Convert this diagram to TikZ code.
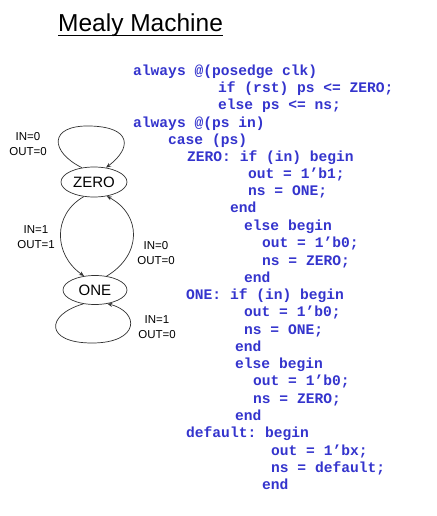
\documentclass[tikz,border=0pt]{standalone}
\usepackage{fontspec}
\setmainfont{Liberation Sans}
\newfontfamily\codefont{Liberation Mono}
\usetikzlibrary{arrows.meta,shapes.geometric}
\definecolor{codeblue}{RGB}{52,52,205}
\definecolor{edgegray}{RGB}{50,50,50}
\frenchspacing
\tikzset{
  codeline/.style={anchor=base west,inner sep=0pt,text=codeblue,font=\codefont\bfseries\fontsize{14.6}{17}\selectfont},
  state/.style={ellipse,draw=edgegray,line width=0.7pt,inner sep=0pt,font=\fontsize{15}{18}\selectfont},
  lbl/.style={align=center,inner sep=0pt,font=\fontsize{11.5}{15}\selectfont},
  trans/.style={draw=edgegray,line width=0.7pt,-{Stealth[length=5pt,width=4pt]}}
}
\begin{document}
\begin{tikzpicture}[x=1pt,y=-1pt]
\useasboundingbox[fill=white] (0,0) rectangle (436,516);
% title
\node[anchor=base west,inner sep=0pt,font=\fontsize{24.5}{28}\selectfont] (title) at (58,32) {Mealy Machine};
\draw[line width=1.3pt] ([yshift=-3.2pt]title.base west) -- ([yshift=-3.2pt]title.base east);
% states
\node[state,minimum width=66pt,minimum height=30pt] (zero) at (94,182) {ZERO};
\node[state,minimum width=64pt,minimum height=29pt] (one) at (95,290) {ONE};
% transitions
\draw[trans] (zero.130) .. controls (50,152) and (48,125) .. (90,126) .. controls (132,127) and (132,148) .. (zero.50);
\draw[trans] (zero.235) .. controls (52,215) and (54,255) .. (one.128);
\draw[trans] (one.50) .. controls (142,255) and (142,215) .. (zero.-48);
\draw[trans] (one.-130) .. controls (45,315) and (45,343) .. (92,343) .. controls (140,343) and (140,312) .. (one.-48);
% labels
\node[lbl] (l1) at (28,144.5) {IN=0\\OUT=0};
\node[lbl] (l2) at (36,237) {IN=1\\OUT=1};
\node[lbl] (l3) at (156,253.5) {IN=0\\OUT=0};
\node[lbl] (l4) at (157,327) {IN=1\\OUT=0};
% code
\node[codeline] (c1) at (133,75.5) {always @(posedge clk)};
\node[codeline] (c2) at (218,92.5) {if (rst) ps <= ZERO;};
\node[codeline] (c3) at (218,110) {else ps <= ns;};
\node[codeline] (c4) at (133,127) {always @(ps in)};
\node[codeline] (c5) at (168,144) {case (ps)};
\node[codeline] (c6) at (187,161) {ZERO: if (in) begin};
\node[codeline] (c7) at (248,178) {out = 1’b1;};
\node[codeline] (c8) at (248,195) {ns = ONE;};
\node[codeline] (c9) at (230,212.5) {end};
\node[codeline] (c10) at (244,230) {else begin};
\node[codeline] (c11) at (262,247) {out = 1’b0;};
\node[codeline] (c12) at (262,265) {ns = ZERO;};
\node[codeline] (c13) at (244,282) {end};
\node[codeline] (c14) at (186,299) {ONE: if (in) begin};
\node[codeline] (c15) at (244,316) {out = 1’b0;};
\node[codeline] (c16) at (244,334) {ns = ONE;};
\node[codeline] (c17) at (235,351) {end};
\node[codeline] (c18) at (235,368) {else begin};
\node[codeline] (c19) at (253,385) {out = 1’b0;};
\node[codeline] (c20) at (253,403) {ns = ZERO;};
\node[codeline] (c21) at (235,420) {end};
\node[codeline] (c22) at (186,437) {default: begin};
\node[codeline] (c23) at (271,455) {out = 1’bx;};
\node[codeline] (c24) at (271,472) {ns = default;};
\node[codeline] (c25) at (262,489) {end};
\end{tikzpicture}
\end{document}
